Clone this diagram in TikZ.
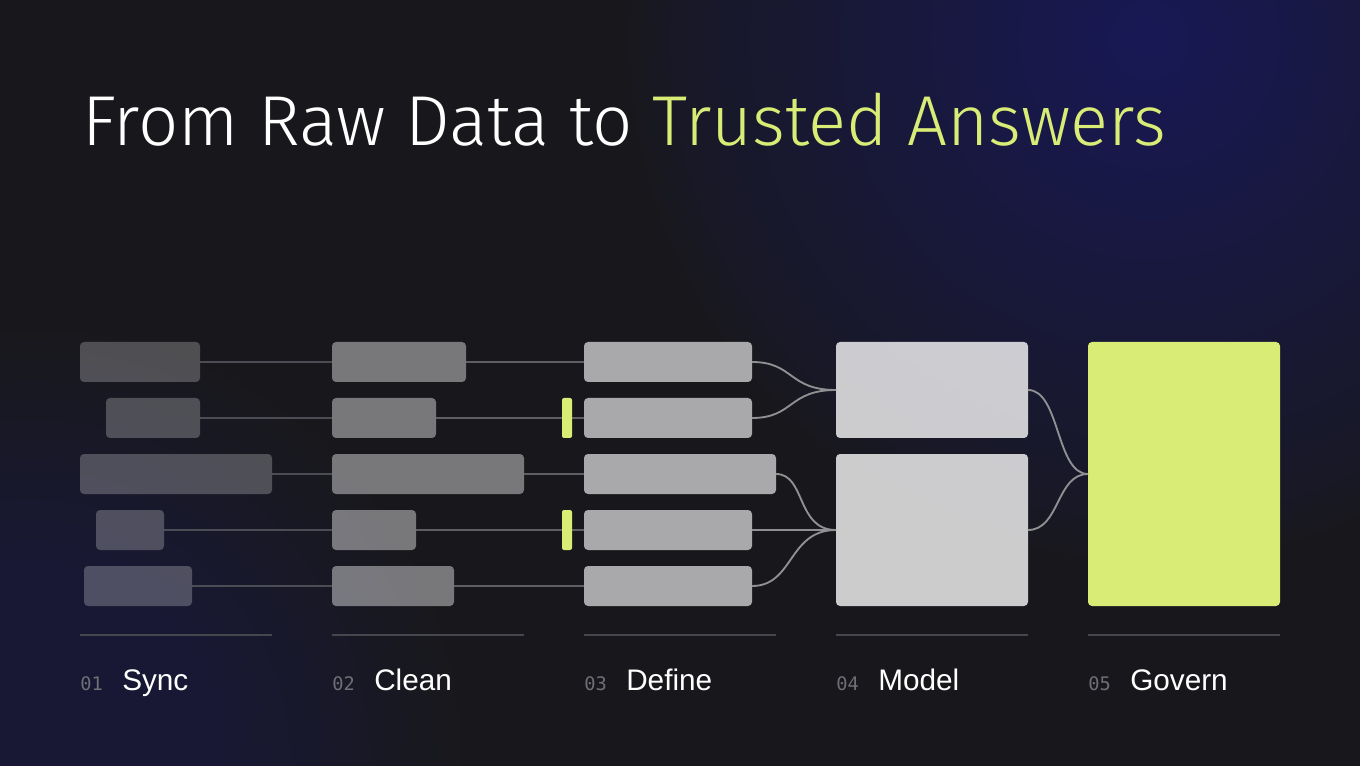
\documentclass[tikz,border=0pt]{standalone}
\usepackage{fontspec}
\setmainfont{Liberation Sans}
\newfontfamily\titlefont{Fira Sans Light}
\newfontfamily\numfont{DejaVu Sans Mono}
\definecolor{bg}{HTML}{18181C}
\definecolor{glowA}{HTML}{3C3C8A}
\definecolor{glowB}{HTML}{2E2E66}
\definecolor{lime}{HTML}{D9EC76}
\definecolor{lineA}{HTML}{4C4C54}
\definecolor{lineB}{HTML}{5E5E63}
\definecolor{curveC}{HTML}{909093}
\definecolor{rule}{HTML}{46464D}
\definecolor{numgrey}{HTML}{6E6E76}
\tikzset{
  blk/.style={draw=none, rounded corners=3pt, inner sep=0pt, outer sep=0pt, anchor=north west},
  syncbox/.style={blk, fill=white, fill opacity=0.24},
  cleanbox/.style={blk, fill=white, fill opacity=0.42},
  definebox/.style={blk, fill=white, fill opacity=0.63},
  modelbox/.style={blk, fill=white, fill opacity=0.78},
  govbox/.style={blk, fill=lime},
  limebar/.style={blk, fill=lime, rounded corners=1.5pt},
  linkA/.style={draw=lineA, line width=1.4pt},
  linkB/.style={draw=lineB, line width=1.4pt},
  linkC/.style={draw=curveC, line width=1.4pt},
  rulebar/.style={draw=rule, line width=1.5pt},
  numlbl/.style={anchor=base west, inner sep=0pt, text=numgrey, font=\numfont\fontsize{14}{14}\selectfont},
  steplbl/.style={anchor=base west, inner sep=0pt, text=white, font=\fontsize{22.3}{22.3}\selectfont},
  glowtr/.style={fill=glowA, opacity=0.02},
  glowbl/.style={fill=glowB, opacity=0.02},
}
\newcommand\blk[6]{\node[#2, minimum width=#5*0.75pt, minimum height=#6*0.75pt] (#1) at (#3,#4) {};}
\begin{document}
\begin{tikzpicture}[x=0.75pt,y=-0.75pt]
\useasboundingbox (0,0) rectangle (1360,766);
\begin{scope}
\clip (0,0) rectangle (1360,766);
\fill[bg] (0,0) rectangle (1360,766);
\foreach \r in {10,20,...,520} { \fill[glowtr] (1150,40) circle (\r); }
\foreach \r in {10,20,...,430} { \fill[glowbl] (30,760) circle (\r); }
\end{scope}

\node[anchor=base west, inner sep=0pt, text=white, font=\titlefont\fontsize{53}{53}\selectfont] (title) at (82,146) {From Raw Data to \textcolor{lime}{Trusted Answers}};

% column 1: Sync
\blk{a1}{syncbox}{80}{342}{120}{40}
\blk{a2}{syncbox}{106}{398}{94}{40}
\blk{a3}{syncbox}{80}{454}{192}{40}
\blk{a4}{syncbox}{96}{510}{68}{40}
\blk{a5}{syncbox}{84}{566}{108}{40}
% column 2: Clean
\blk{b1}{cleanbox}{332}{342}{134}{40}
\blk{b2}{cleanbox}{332}{398}{104}{40}
\blk{b3}{cleanbox}{332}{454}{192}{40}
\blk{b4}{cleanbox}{332}{510}{84}{40}
\blk{b5}{cleanbox}{332}{566}{122}{40}
% column 3: Define
\blk{c1}{definebox}{584}{342}{168}{40}
\blk{c2}{definebox}{584}{398}{168}{40}
\blk{c3}{definebox}{584}{454}{192}{40}
\blk{c4}{definebox}{584}{510}{168}{40}
\blk{c5}{definebox}{584}{566}{168}{40}
% column 4: Model
\blk{m1}{modelbox}{836}{342}{192}{96}
\blk{m2}{modelbox}{836}{454}{192}{152}
% column 5: Govern
\blk{g}{govbox}{1088}{342}{192}{264}

% connectors
\foreach \i in {1,...,5} {
  \draw[linkA] (a\i.east) -- (b\i.west);
  \draw[linkB] (b\i.east) -- (c\i.west);
}
\draw[linkC] (c1.east) .. controls +(42,0) and +(-48,0) .. (m1.west);
\draw[linkC] (c2.east) .. controls +(42,0) and +(-48,0) .. (m1.west);
\draw[linkC] (c3.east) .. controls +(30,0) and +(-40,0) .. (m2.west);
\draw[linkC] (c4.east) -- (m2.west);
\draw[linkC] (c5.east) .. controls +(42,0) and +(-48,0) .. (m2.west);
\draw[linkC] (m1.east) .. controls +(32,0) and +(-32,0) .. (g.west);
\draw[linkC] (m2.east) .. controls +(32,0) and +(-32,0) .. (g.west);

% lime markers
\blk{q1}{limebar}{562}{398}{10}{40}
\blk{q2}{limebar}{562}{510}{10}{40}

% rules and labels
\coordinate (r1s) at (80,635);   \coordinate (r1e) at (272,635);
\coordinate (r2s) at (332,635);  \coordinate (r2e) at (524,635);
\coordinate (r3s) at (584,635);  \coordinate (r3e) at (776,635);
\coordinate (r4s) at (836,635);  \coordinate (r4e) at (1028,635);
\coordinate (r5s) at (1088,635); \coordinate (r5e) at (1280,635);
\foreach \i in {1,...,5} { \draw[rulebar] (r\i s) -- (r\i e); }

\node[numlbl] (n1) at (80,690) {01};   \node[steplbl] (t1) at (122,690) {Sync};
\node[numlbl] (n2) at (332,690) {02};  \node[steplbl] (t2) at (374,690) {Clean};
\node[numlbl] (n3) at (584,690) {03};  \node[steplbl] (t3) at (626,690) {Define};
\node[numlbl] (n4) at (836,690) {04};  \node[steplbl] (t4) at (878,690) {Model};
\node[numlbl] (n5) at (1088,690) {05}; \node[steplbl] (t5) at (1130,690) {Govern};
\end{tikzpicture}
\end{document}
